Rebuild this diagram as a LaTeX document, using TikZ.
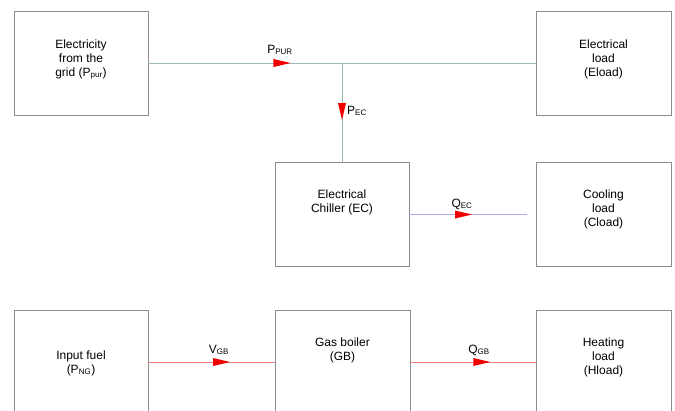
\documentclass[tikz,border=0pt]{standalone}
\usepackage{fontspec}
\setmainfont{Liberation Sans}
\usetikzlibrary{decorations.markings,calc}
\definecolor{boxgray}{HTML}{8C8C8C}
\definecolor{elline}{HTML}{9BBAB3}
\definecolor{coolline}{HTML}{AFAFEF}
\definecolor{heatline}{HTML}{EE7F7F}
\definecolor{arrred}{HTML}{F00000}
\tikzset{
  box/.style={draw=boxgray, line width=0.8pt, minimum width=134pt, minimum height=104pt, inner sep=0pt},
  txt/.style={align=center, font=\fontsize{12}{14}\selectfont, inner sep=0pt},
  lbl/.style={font=\fontsize{12}{14}\selectfont, inner sep=0pt},
  flow/.style={line width=0.9pt},
  tri/.style={postaction={decorate, decoration={markings,
     mark=at position #1 with {\fill[arrred] (-8.5pt,-4pt) -- (8.5pt,0pt) -- (-8.5pt,4pt) -- cycle;}}}}
}
\begin{document}
\begin{tikzpicture}[x=1pt,y=-1pt]
\useasboundingbox (0,0) rectangle (675,410);
\clip (0,0) rectangle (675,410);
% boxes
\node[box] (grid) at (81,63) {};
\node[box, minimum width=135pt] (eload) at (603.5,63) {};
\node[box] (ec) at (342,214.5) {};
\node[box, minimum width=135pt] (cload) at (603.5,214.5) {};
\node[box] (fuel) at (81,362) {};
\node[box, minimum width=135pt] (gb) at (342.5,362) {};
\node[box, minimum width=135pt] (hload) at (603.5,362) {};
% texts
\node[txt] (tgrid) at (81,59.5) {Electricity\\from the\\grid (P\textsubscript{pur})};
\node[txt] (teload) at (603.5,59) {Electrical\\load\\(Eload)};
\node[txt] (tec) at (342,202) {Electrical\\Chiller (EC)};
\node[txt] (tcload) at (603.5,209) {Cooling\\load\\(Cload)};
\node[txt] (tfuel) at (81,363) {Input fuel\\(P\textsubscript{NG})};
\node[txt] (tgb) at (342.5,350) {Gas boiler\\(GB)};
\node[txt] (thload) at (603.5,357) {Heating\\load\\(Hload)};
% connectors
\coordinate (J) at (342,63);
\coordinate (cend) at (527,214.5);
\draw[flow, elline, tri=0.69] (grid.east |- J) -- (J);
\draw[flow, elline] (J) -- (J -| eload.west);
\draw[flow, elline, tri=0.49] (J) -- (ec.north);
\draw[flow, coolline, tri=0.46] (ec.east) -- (cend);
\draw[flow, heatline, tri=0.58] (fuel.east) -- (gb.west);
\draw[flow, heatline, tri=0.57] (gb.east) -- (hload.west);
% labels
\node[lbl] (lpur) at (280,50) {P\textsubscript{PUR}};
\node[lbl] (lec) at (357,111) {P\textsubscript{EC}};
\node[lbl] (lqec) at (462,204) {Q\textsubscript{EC}};
\node[lbl] (lvgb) at (219,350) {V\textsubscript{GB}};
\node[lbl] (lqgb) at (479,350) {Q\textsubscript{GB}};
\end{tikzpicture}
\end{document}
